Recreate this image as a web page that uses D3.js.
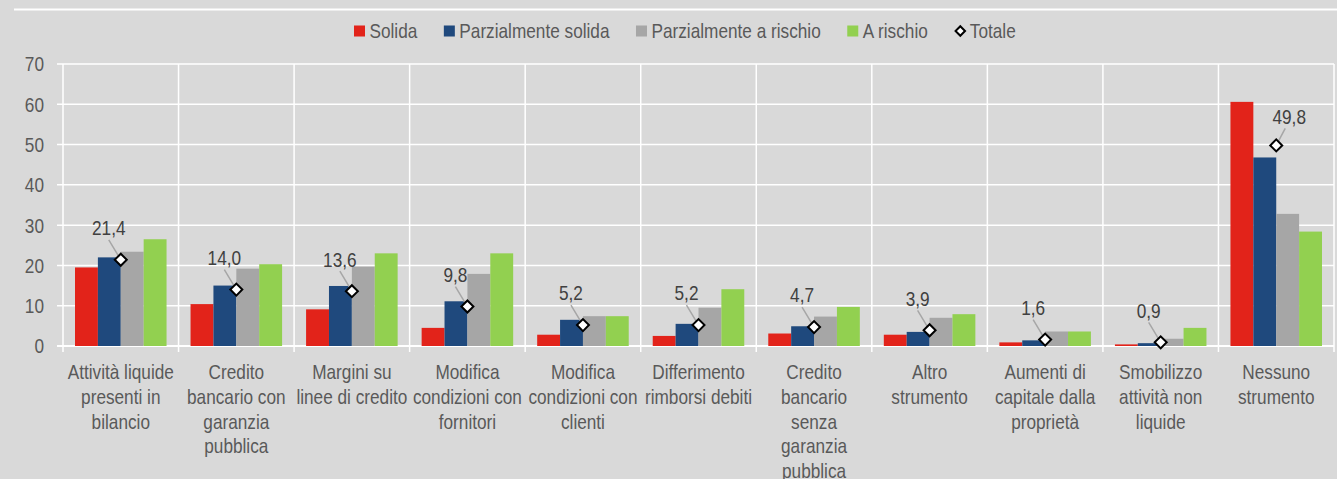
<!DOCTYPE html>
<html>
<head>
<meta charset="utf-8">
<script src="https://cdn.jsdelivr.net/npm/d3@7"></script>
<style>
  body { margin: 0; background: #d9d9d9; }
  svg text { font-family: 'Liberation Sans', Arial, sans-serif; }
</style>
</head>
<body>
<div id="container"></div>
<script>
const categories = [
  ['Attività liquide', 'presenti in', 'bilancio'],
  ['Credito', 'bancario con', 'garanzia', 'pubblica'],
  ['Margini su', 'linee di credito'],
  ['Modifica', 'condizioni con', 'fornitori'],
  ['Modifica', 'condizioni con', 'clienti'],
  ['Differimento', 'rimborsi debiti'],
  ['Credito', 'bancario', 'senza', 'garanzia', 'pubblica'],
  ['Altro', 'strumento'],
  ['Aumenti di', 'capitale dalla', 'proprietà'],
  ['Smobilizzo', 'attività non', 'liquide'],
  ['Nessuno', 'strumento']
]

const seriesNames = ['Solida', 'Parzialmente solida', 'Parzialmente a rischio', 'A rischio']
const solida = [19.5, 10.4, 9.1, 4.5, 2.8, 2.5, 3.1, 2.8, 0.9, 0.4, 60.6]
const parzSolida = [22.0, 15.0, 14.9, 11.1, 6.5, 5.5, 4.9, 3.5, 1.4, 0.7, 46.8]
const parzRischio = [23.4, 19.2, 19.7, 17.9, 7.4, 9.5, 7.3, 7.0, 3.6, 1.8, 32.8]
const aRischio = [26.5, 20.3, 23.0, 23.0, 7.4, 14.1, 9.7, 7.9, 3.6, 4.5, 28.4]
const totale = [21.4, 14.0, 13.6, 9.8, 5.2, 5.2, 4.7, 3.9, 1.6, 0.9, 49.8]
const yTicks = [0, 10, 20, 30, 40, 50, 60, 70]

const colors = ['#e2231a', '#1f497d', '#a6a6a6', '#92d050']

const w = 1337
const h = 479
const fs = '21px'
const squeeze = 0.82
const fmt = (v) => v.toFixed(1).replace('.', ',')
const at = (px, py) => `translate(${px},${py}) scale(${squeeze},1)`

const series = [solida, parzSolida, parzRischio, aRischio]
const keys = categories.map((c) => c.join(' '))

const svg = d3.select('#container')
  .append('svg')
  .attr('width', w)
  .attr('height', h)

svg.append('rect')
  .attr('width', w)
  .attr('height', h)
  .attr('fill', '#d9d9d9')

svg.append('line')
  .attr('x1', 14).attr('x2', w)
  .attr('y1', 9.5).attr('y2', 9.5)
  .attr('stroke', '#fff')
  .attr('stroke-width', 2)

const x = d3.scaleBand()
  .domain(keys)
  .range([63, 1334])

const xInner = d3.scaleBand()
  .domain(seriesNames)
  .range([12, x.bandwidth() - 12])

const y = d3.scaleLinear()
  .domain([0, 70])
  .range([346, 64])

// griglia
svg.selectAll('.hgrid')
  .data(yTicks)
  .enter()
  .append('line')
  .attr('class', 'hgrid')
  .attr('x1', 57)
  .attr('x2', 1334)
  .attr('y1', (d) => y(d))
  .attr('y2', (d) => y(d))
  .attr('stroke', '#fff')
  .attr('stroke-width', (d) => d === 0 ? 2 : 1.5)

const bounds = keys.map((k) => x(k)).concat([x.range()[1]])
svg.selectAll('.vgrid')
  .data(bounds)
  .enter()
  .append('line')
  .attr('class', 'vgrid')
  .attr('x1', (d) => d)
  .attr('x2', (d) => d)
  .attr('y1', y(70))
  .attr('y2', 352)
  .attr('stroke', '#fff')
  .attr('stroke-width', 1.5)

svg.selectAll('.ytick')
  .data(yTicks)
  .enter()
  .append('text')
  .attr('class', 'ytick')
  .attr('transform', (d) => at(44, y(d)))
  .attr('dy', '0.35em')
  .attr('text-anchor', 'end')
  .attr('font-size', fs)
  .attr('fill', '#595959')
  .text((d) => d)

// barre
const groups = svg.selectAll('.grp')
  .data(keys)
  .enter()
  .append('g')
  .attr('class', 'grp')
  .attr('transform', (d) => `translate(${x(d)},0)`)

groups.selectAll('rect')
  .data((d, i) => series.map((s, j) => ({ name: seriesNames[j], value: s[i], color: colors[j] })))
  .enter()
  .append('rect')
  .attr('x', (d) => xInner(d.name))
  .attr('width', xInner.bandwidth())
  .attr('y', (d) => y(d.value))
  .attr('height', (d) => y(0) - y(d.value))
  .attr('fill', (d) => d.color)

// etichette categorie
svg.selectAll('.xlabel')
  .data(categories)
  .enter()
  .append('text')
  .attr('class', 'xlabel')
  .attr('transform', (d, i) => at(x(keys[i]) + x.bandwidth() / 2, 372))
  .attr('text-anchor', 'middle')
  .attr('font-size', fs)
  .attr('fill', '#595959')
  .selectAll('tspan')
  .data((lines) => lines)
  .enter()
  .append('tspan')
  .attr('x', 0)
  .attr('y', (d, k) => k * 24.7)
  .attr('dy', '0.35em')
  .text((d) => d)

// totale
const pts = totale.map((v, i) => {
  const cx = x(keys[i]) + x.bandwidth() / 2
  const cy = y(v)
  const last = i === totale.length - 1
  return { v, cx, cy, lx: cx + (last ? 13 : -12), ly: cy - (last ? 29 : 32) }
})

svg.selectAll('.leader')
  .data(pts)
  .enter()
  .append('line')
  .attr('class', 'leader')
  .attr('x1', (d) => d.lx + (d.lx < d.cx ? 0 : -4))
  .attr('y1', (d) => d.ly + 12)
  .attr('x2', (d) => d.cx)
  .attr('y2', (d) => d.cy)
  .attr('stroke', '#a6a6a6')
  .attr('stroke-width', 1.5)

svg.selectAll('.tot')
  .data(pts)
  .enter()
  .append('path')
  .attr('class', 'tot')
  .attr('d', d3.symbol().type(d3.symbolSquare).size(72))
  .attr('transform', (d) => `translate(${d.cx},${d.cy}) rotate(45)`)
  .attr('fill', '#fff')
  .attr('stroke', '#000')
  .attr('stroke-width', 2)

svg.selectAll('.totlabel')
  .data(pts)
  .enter()
  .append('text')
  .attr('class', 'totlabel')
  .attr('transform', (d) => at(d.lx, d.ly))
  .attr('dy', '0.35em')
  .attr('text-anchor', 'middle')
  .attr('font-size', fs)
  .attr('fill', '#404040')
  .text((d) => fmt(d.v))

// legenda
const legendItems = seriesNames.map((n, i) => ({ name: n, color: colors[i], diamond: false }))
  .concat([{ name: 'Totale', diamond: true }])

const legend = svg.append('g')
let lx = 354
legendItems.forEach((item) => {
  const g = legend.append('g').attr('transform', `translate(${lx},31)`)
  if (item.diamond) {
    g.append('path')
      .attr('d', d3.symbol().type(d3.symbolSquare).size(45))
      .attr('transform', 'translate(6,0) rotate(45)')
      .attr('fill', '#fff')
      .attr('stroke', '#000')
      .attr('stroke-width', 2)
  } else {
    g.append('rect')
      .attr('x', 0)
      .attr('y', -5.5)
      .attr('width', 11)
      .attr('height', 11)
      .attr('fill', item.color)
  }
  const t = g.append('text')
    .attr('transform', at(15.5, 0))
    .attr('dy', '0.35em')
    .attr('font-size', fs)
    .attr('fill', '#595959')
    .text(item.name)
  lx += 15.5 + t.node().getComputedTextLength() * squeeze + 26.5
})
</script>
</body>
</html>
